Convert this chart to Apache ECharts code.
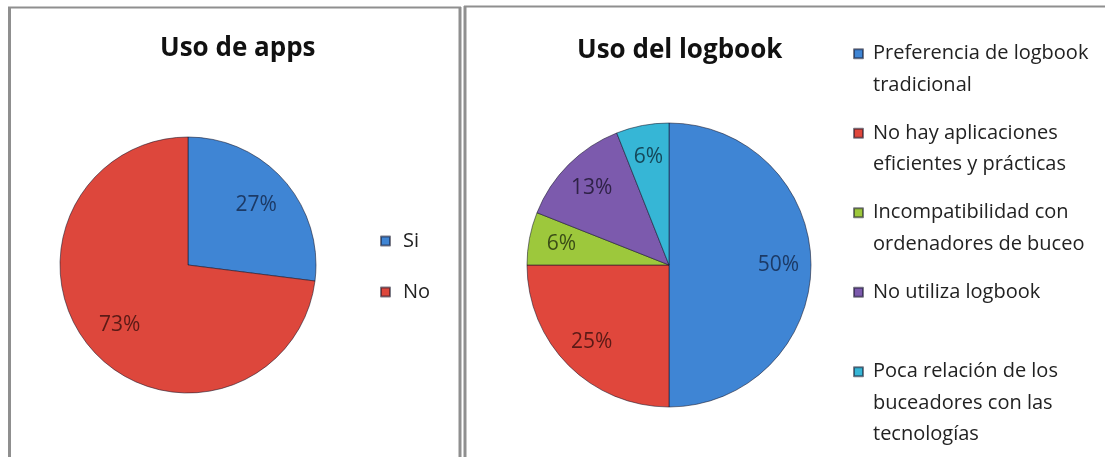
<!DOCTYPE html>
<html>
<head>
<meta charset="utf-8">
<script src="https://cdn.jsdelivr.net/npm/echarts@6/dist/echarts.min.js"></script>
<style>
	body { margin: 0; background: #fff; }
	#chart { width: 1105px; height: 457px; }
</style>
</head>
<body>
<div id="chart"></div>
<script>
// datos: uso de apps
var appsNames = [ 'Si', 'No' ];
var appsValues = [ 27, 73 ];
// datos: uso del logbook
var logNames = [ 'Preferencia de logbook tradicional',
		'No hay aplicaciones eficientes y prácticas',
		'Incompatibilidad con ordenadores de buceo', 'No utiliza logbook',
		'Poca relación de los buceadores con las tecnologías' ];
var logLegendLines = [ [ 'Preferencia de logbook', 'tradicional' ],
		[ 'No hay aplicaciones', 'eficientes y prácticas' ],
		[ 'Incompatibilidad con', 'ordenadores de buceo' ],
		[ 'No utiliza logbook' ],
		[ 'Poca relación de los', 'buceadores con las', 'tecnologías' ] ];
var logValues = [ 50, 25, 6, 13, 6 ];

var appsColors = [ '#3f85d4', '#dd473c' ];
var appsLabelColors = [ '#1c3a66', '#5b1a16' ];
var logColors = [ '#3f85d4', '#e0473c', '#9dc83c', '#7c5aad', '#36b6d6' ];
var logLabelColors = [ '#1c3a66', '#5b1a16', '#3b4d17', '#2f2247', '#15485a' ];

function pieData(names, values, colors, labelColors, hidden) {
	var out = [];
	for (var i = 0; i < names.length; i++) {
		out.push({
			name : names[i],
			value : values[i],
			itemStyle : {
				color : hidden ? 'rgba(0,0,0,0)' : colors[i],
				borderWidth : hidden ? 0 : 1
			},
			label : {
				color : labelColors[i]
			}
		});
	}
	return out;
}

function legendText(name) {
	var lines = logLegendLines[logNames.indexOf(name)];
	// la primera línea queda centrada en el marcador
	var out = [ '', '' ].concat(lines);
	while (out.length < 5)
		out.push('');
	return out.join('\n');
}

var gray = '#8f8f8f';
var myChart = echarts.init(document.getElementById('chart'));
myChart.setOption({
	animation : false,
	backgroundColor : '#fff',
	title : [ {
		text : 'Uso de apps',
		left : 160,
		top : 36,
		padding : 0,
		textStyle : {
			fontFamily : 'Open Sans',
			fontWeight : 'bold',
			fontSize : 26,
			color : '#111'
		}
	}, {
		text : 'Uso del logbook',
		left : 577,
		top : 38,
		padding : 0,
		textStyle : {
			fontFamily : 'Open Sans',
			fontWeight : 'bold',
			fontSize : 26,
			color : '#111'
		}
	} ],
	legend : [ {
		data : appsNames,
		orient : 'vertical',
		left : 380,
		top : 229,
		padding : 0,
		icon : 'rect',
		itemWidth : 9,
		itemHeight : 9,
		itemGap : 27,
		textStyle : {
			fontFamily : 'Open Sans',
			fontSize : 20,
			lineHeight : 24,
			color : '#222',
			padding : [ 0, 0, 0, 8 ]
		}
	}, {
		data : logNames,
		orient : 'vertical',
		left : 853,
		top : -25,
		padding : 0,
		icon : 'rect',
		itemWidth : 9,
		itemHeight : 9,
		itemGap : -78,
		formatter : legendText,
		textStyle : {
			fontFamily : 'Open Sans',
			fontSize : 20,
			lineHeight : 31.5,
			color : '#222',
			padding : [ 0, 0, 0, 5 ]
		}
	} ],
	graphic : [ {
		type : 'line',
		shape : { x1 : 9.5, y1 : 7, x2 : 9.5, y2 : 457 },
		style : { stroke : gray, lineWidth : 3 }
	}, {
		type : 'line',
		shape : { x1 : 8, y1 : 7.5, x2 : 461, y2 : 7.5 },
		style : { stroke : gray, lineWidth : 2 }
	}, {
		type : 'line',
		shape : { x1 : 460, y1 : 7, x2 : 460, y2 : 457 },
		style : { stroke : gray, lineWidth : 3 }
	}, {
		type : 'line',
		shape : { x1 : 465, y1 : 6, x2 : 465, y2 : 457 },
		style : { stroke : gray, lineWidth : 3 }
	}, {
		type : 'line',
		shape : { x1 : 464, y1 : 6.5, x2 : 1105, y2 : 6.5 },
		style : { stroke : gray, lineWidth : 2 }
	} ],
	series : [ {
		name : 'Uso de apps',
		type : 'pie',
		center : [ 188, 265 ],
		radius : 128,
		startAngle : 90,
		itemStyle : { borderColor : 'rgba(20,20,40,0.55)' },
		label : { show : false },
		labelLine : { show : false },
		emphasis : { disabled : true },
		data : pieData(appsNames, appsValues, appsColors, appsLabelColors, false)
	}, {
		name : 'Uso del logbook',
		type : 'pie',
		center : [ 669, 265 ],
		radius : 142,
		startAngle : 90,
		itemStyle : { borderColor : 'rgba(20,20,40,0.55)' },
		label : { show : false },
		labelLine : { show : false },
		emphasis : { disabled : true },
		data : pieData(logNames, logValues, logColors, logLabelColors, false)
	}, {
		// anillo invisible solo para colocar las etiquetas
		name : 'etiquetas apps',
		type : 'pie',
		center : [ 188, 265 ],
		radius : 176,
		startAngle : 90,
		silent : true,
		z : 5,
		label : {
			show : true,
			position : 'inside',
			formatter : '{c}%',
			fontFamily : 'Open Sans',
			fontSize : 21
		},
		labelLine : { show : false },
		emphasis : { disabled : true },
		data : pieData(appsNames, appsValues, appsColors, appsLabelColors, true)
	}, {
		name : 'etiquetas logbook',
		type : 'pie',
		center : [ 669, 265 ],
		radius : 213,
		startAngle : 90,
		silent : true,
		z : 5,
		label : {
			show : true,
			position : 'inside',
			formatter : '{c}%',
			fontFamily : 'Open Sans',
			fontSize : 21
		},
		labelLine : { show : false },
		emphasis : { disabled : true },
		data : pieData(logNames, logValues, logColors, logLabelColors, true)
	} ]
});
</script>
</body>
</html>
